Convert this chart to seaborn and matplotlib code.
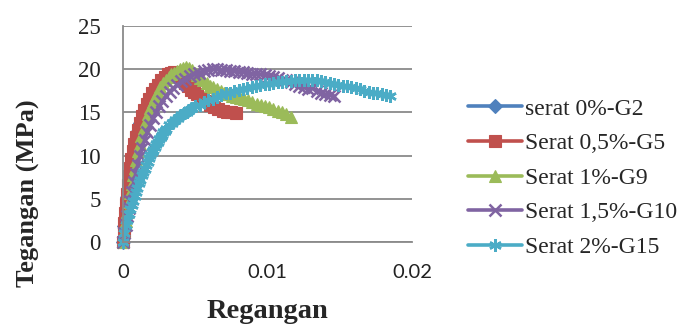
import matplotlib
matplotlib.use("Agg")
import matplotlib.pyplot as plt
import seaborn as sns
import pandas as pd

sns.set_style("white")
plt.rcParams['font.family'] = ['Liberation Serif', 'DejaVu Serif']

labels = ["serat 0%-G2", "Serat 0,5%-G5", "Serat 1%-G9", "Serat 1,5%-G10", "Serat 2%-G15"]
colors = ["#4F81BD", "#C0504D", "#9BBB59", "#8064A2", "#4BACC6"]

strain_g2 = [0, 0.0001, 0.0002, 0.0003, 0.0004, 0.0005, 0.00062, 0.00075, 0.0009, 0.00105,
             0.0012, 0.00138, 0.00156, 0.00175, 0.00195, 0.00216, 0.00238, 0.0026, 0.00283,
             0.00306, 0.0033, 0.00355, 0.0038, 0.00405, 0.0043]
stress_g2 = [0, 1.8, 3.6, 5.2, 6.7, 8.0, 9.3, 10.5, 11.7, 12.8, 13.8, 14.7, 15.5, 16.2, 16.9,
             17.5, 18.0, 18.4, 18.8, 19.1, 19.3, 19.4, 19.3, 19.0, 18.6]

strain_g5 = [0, 0.00005, 0.0001, 0.00015, 0.0002, 0.00026, 0.00033, 0.0004, 0.00048, 0.00057,
             0.00067, 0.00078, 0.0009, 0.00103, 0.00117, 0.00132, 0.00148, 0.00165, 0.00183,
             0.00202, 0.00222, 0.00243, 0.00265, 0.00288, 0.0031, 0.0033, 0.0035, 0.0037,
             0.0039, 0.0041, 0.0043, 0.0045, 0.0047, 0.0049, 0.0051, 0.0054, 0.0057, 0.006,
             0.0063, 0.0066, 0.0069, 0.0072, 0.0075, 0.0078]
stress_g5 = [0, 1.1, 2.2, 3.3, 4.4, 5.5, 6.6, 7.6, 8.6, 9.6, 10.5, 11.4, 12.2, 13.0, 13.8, 14.6,
             15.3, 16.0, 16.6, 17.2, 17.7, 18.2, 18.7, 19.1, 19.4, 19.6, 19.7, 19.6, 19.3, 18.9,
             18.4, 18.0, 17.6, 17.4, 17.1, 16.7, 16.3, 15.9, 15.6, 15.4, 15.2, 15.1, 15.0, 14.9]

strain_g9 = [0, 0.0001, 0.0002, 0.0003, 0.0004, 0.0005, 0.0006, 0.0007, 0.0008, 0.0009,
             0.00102, 0.00115, 0.00128, 0.00142, 0.00157, 0.00172, 0.00188, 0.00205, 0.00222,
             0.0024, 0.00258, 0.00277, 0.00296, 0.00315, 0.00335, 0.00355, 0.00375, 0.00395,
             0.00415, 0.00435, 0.00455, 0.00475, 0.00495, 0.00515, 0.00535, 0.00555, 0.00578,
             0.006, 0.00625, 0.0065, 0.00675, 0.007, 0.00728, 0.00755, 0.00782, 0.0081,
             0.00838, 0.00866, 0.00895, 0.00924, 0.00953, 0.00982, 0.0101, 0.0104, 0.0107,
             0.011, 0.0113, 0.0116]
stress_g9 = [0, 1.2, 2.4, 3.5, 4.6, 5.7, 6.7, 7.7, 8.6, 9.5, 10.5, 11.4, 12.3, 13.2, 14.0,
             14.8, 15.5, 16.2, 16.8, 17.4, 17.9, 18.4, 18.8, 19.1, 19.4, 19.6, 19.8, 20.0,
             20.1, 20.2, 20.1, 19.9, 19.6, 19.3, 19.0, 18.7, 18.4, 18.1, 17.9, 17.7, 17.5,
             17.3, 17.1, 16.9, 16.8, 16.7, 16.6, 16.4, 16.2, 16.0, 15.8, 15.7, 15.6, 15.4,
             15.2, 15.0, 14.8, 14.5]

strain_g10 = [0, 0.0001, 0.0002, 0.0003, 0.0004, 0.0005, 0.00062, 0.00075, 0.00088, 0.00102,
              0.00117, 0.00133, 0.0015, 0.00168, 0.00187, 0.00207, 0.00228, 0.0025, 0.00273,
              0.00297, 0.00322, 0.00348, 0.00375, 0.00403, 0.00432, 0.00462, 0.00493,
              0.00525, 0.00558, 0.0059, 0.0062, 0.0065, 0.0068, 0.0071, 0.0074, 0.0077,
              0.008, 0.0083, 0.0086, 0.0089, 0.0092, 0.0095, 0.0098, 0.0101, 0.0104, 0.0107,
              0.011, 0.0113, 0.0116, 0.0119, 0.0122, 0.0125, 0.0128, 0.0131, 0.0134, 0.0137,
              0.014, 0.0143, 0.0146]
stress_g10 = [0, 1.0, 2.0, 3.0, 3.9, 4.8, 5.8, 6.9, 7.9, 8.9, 9.9, 10.9, 11.8, 12.7, 13.5,
              14.3, 15.0, 15.7, 16.3, 16.9, 17.4, 17.8, 18.2, 18.6, 18.9, 19.2, 19.4, 19.6,
              19.8, 19.9, 20.0, 20.0, 19.9, 19.9, 19.8, 19.8, 19.7, 19.7, 19.6, 19.5, 19.5,
              19.4, 19.3, 19.2, 19.1, 19.0, 18.8, 18.7, 18.5, 18.3, 18.1, 17.9, 17.7, 17.8,
              17.5, 17.3, 17.1, 17.0, 16.9]

strain_g15 = [0, 0.0001, 0.0002, 0.0003, 0.0004, 0.0005, 0.0006, 0.0007, 0.0008, 0.0009,
              0.001, 0.0011, 0.0012, 0.0013, 0.0014, 0.0015, 0.0016, 0.0017, 0.0018, 0.0019,
              0.002, 0.0021, 0.0022, 0.0023, 0.0024, 0.0025, 0.0026, 0.0027, 0.0028, 0.0029,
              0.003, 0.0032, 0.0034, 0.0036, 0.0038, 0.004, 0.0042, 0.0044, 0.0046, 0.0048,
              0.005, 0.0053, 0.0056, 0.0059, 0.0062, 0.0065, 0.0068, 0.0071, 0.0074, 0.0077,
              0.008, 0.0083, 0.0086, 0.0089, 0.0092, 0.0095, 0.0098, 0.0101, 0.0104, 0.0107,
              0.011, 0.0113, 0.0116, 0.0119, 0.0122, 0.0125, 0.0128, 0.0131, 0.0134, 0.0137,
              0.014, 0.0143, 0.0146, 0.0149, 0.0152, 0.0155, 0.0158, 0.0161, 0.0164, 0.0167,
              0.017, 0.0173, 0.0176, 0.0179, 0.0182, 0.0185]
stress_g15 = [0, 1.0, 2.0, 2.6, 3.2, 3.8, 4.3, 4.8, 5.3, 5.8, 6.3, 6.8, 7.2, 7.7, 8.1, 8.5,
              8.9, 9.3, 9.7, 10.1, 10.4, 10.7, 11.0, 11.3, 11.6, 11.9, 12.2, 12.4, 12.7, 12.9,
              13.1, 13.5, 13.8, 14.1, 14.4, 14.7, 14.9, 15.1, 15.3, 15.5, 15.7, 15.9, 16.2,
              16.4, 16.6, 16.8, 17.0, 17.2, 17.3, 17.5, 17.6, 17.7, 17.8, 17.9, 18.1, 18.2,
              18.3, 18.3, 18.4, 18.5, 18.5, 18.6, 18.6, 18.7, 18.7, 18.8, 18.8, 18.7, 18.7,
              18.6, 18.5, 18.4, 18.3, 18.2, 18.1, 18.0, 17.9, 17.8, 17.7, 17.5, 17.4, 17.3,
              17.2, 17.1, 17.0, 16.9]

y_ticks = [0, 5, 10, 15, 20, 25]
x_ticks = [0, 0.01, 0.02]
x_ticklabels = ["0", "0.01", "0.02"]

series = [(strain_g2, stress_g2), (strain_g5, stress_g5), (strain_g9, stress_g9),
          (strain_g10, stress_g10), (strain_g15, stress_g15)]
markers = ["D", "s", "^", "x", (6, 2, 0)]
msizes = [7, 8, 8.5, 8, 9]

fig = plt.figure(figsize=(6.89, 3.29), dpi=100)
ax = fig.add_axes([123/689, 1 - 242/329, (412-123)/689, (242-26)/329])

for (sx, sy), lab, col, mk, ms in zip(series, labels, colors, markers, msizes):
    df = pd.DataFrame({"Regangan": sx, "Tegangan": sy})
    sns.lineplot(data=df, x="Regangan", y="Tegangan", ax=ax, color=col, marker=mk,
                 markersize=ms, markeredgecolor=col, markerfacecolor=col,
                 markeredgewidth=1.8 if mk in ("x",) or isinstance(mk, tuple) else 0.8,
                 linewidth=2.6, label=lab, estimator=None, sort=False, clip_on=False,
                 legend=False)

ax.set_xlim(0, 0.02)
ax.set_ylim(0, 25)
ax.set_yticks(y_ticks)
ax.set_xticks(x_ticks)
ax.set_xticklabels(x_ticklabels)
ax.grid(axis="y", color="#8a8a8a", linewidth=1.3)
ax.grid(axis="x", visible=False)
for sp in ["top", "right"]:
    ax.spines[sp].set_visible(False)
ax.spines["left"].set_color("#8a8a8a")
ax.spines["bottom"].set_color("#8a8a8a")
ax.spines["left"].set_linewidth(1.3)
ax.spines["bottom"].set_linewidth(1.3)
ax.set_axisbelow(True)
ax.tick_params(axis="both", length=0)
ax.tick_params(axis="y", pad=16)
ax.tick_params(axis="x", pad=16)
for t in ax.get_yticklabels():
    t.set_fontfamily(["Liberation Serif"])
    t.set_fontsize(16.5)
    t.set_color("#222222")
for t in ax.get_xticklabels():
    t.set_fontfamily(["Lato", "DejaVu Sans"])
    t.set_fontsize(14.5)
    t.set_color("#222222")
ax.set_xlabel("")
ax.set_ylabel("")

fig.text(267/689, 1 - 312/329, "Regangan", ha="center", va="center",
         fontsize=20.5, fontweight="bold", family=["Liberation Serif"])
fig.text(28/689, 1 - 193/329, "Tegangan (MPa)", ha="center", va="center", rotation=90,
         fontsize=19, fontweight="bold", family=["Liberation Serif"])

handles, labs = ax.get_legend_handles_labels()
fig.legend(handles, labs, loc="center left", bbox_to_anchor=(468/689, 1 - 178/329),
           frameon=False, handlelength=2.3, handletextpad=0.1,
           labelspacing=0.55, borderpad=0, borderaxespad=0,
           prop={"family": "Liberation Serif", "size": 17})

fig.savefig("out.png", dpi=100)
